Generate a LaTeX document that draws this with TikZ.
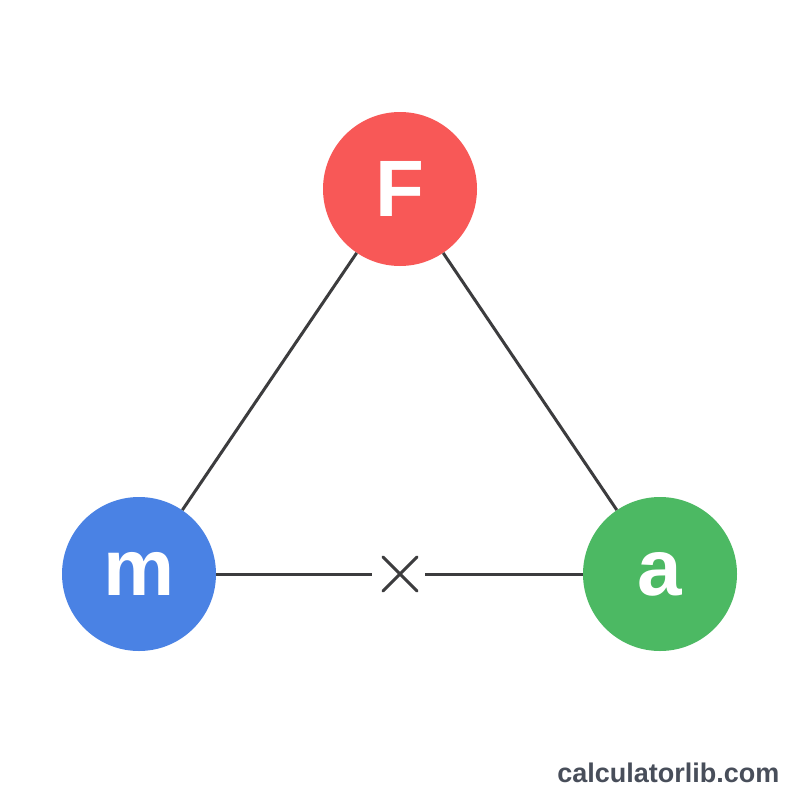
\documentclass[tikz,border=0pt]{standalone}
\usepackage{fontspec}
\setmainfont{Liberation Sans}
\usepackage{tikz}
\usetikzlibrary{positioning}
\definecolor{forceRed}{RGB}{248,88,87}
\definecolor{massBlue}{RGB}{74,130,228}
\definecolor{accGreen}{RGB}{76,185,99}
\definecolor{edgeGray}{RGB}{60,60,62}
\definecolor{siteGray}{RGB}{72,78,90}

\begin{document}
\begin{tikzpicture}[x=1pt,y=-1pt,
  quantity/.style={circle,minimum size=154pt,inner sep=0pt,text=white,font=\fontsize{80}{80}\selectfont\bfseries},
  edge/.style={edgeGray,line width=3pt}]
  \useasboundingbox[fill=white](0,0) rectangle (800,800);
  % triangle corners
  \node[quantity,fill=forceRed] (F) at (400,189){F};
  \node[quantity,fill=massBlue] (m) at (139,574){m};
  \node[quantity,fill=accGreen] (a) at (660,574){a};
  % sides
  \draw[edge](F)--(m);
  \draw[edge](F)--(a);
  % product sign on the base
  \coordinate (times) at (400,574);
  \draw[edge](m)--([xshift=-28pt]times);
  \draw[edge]([xshift=25pt]times)--(a);
  \draw[edge,line cap=round]([shift={(-17pt,-17pt)}]times)--([shift={(17pt,17pt)}]times);
  \draw[edge,line cap=round]([shift={(-17pt,17pt)}]times)--([shift={(17pt,-17pt)}]times);
  % watermark
  \node[siteGray,font=\fontsize{27}{27}\selectfont\bfseries,anchor=base east] (site) at (783,782){calculatorlib.com};
\end{tikzpicture}
\end{document}
